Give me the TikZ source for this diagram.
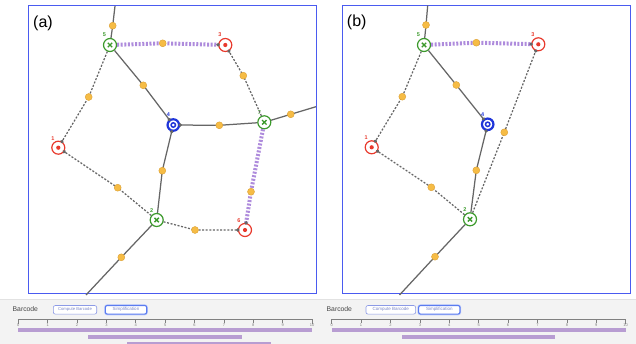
\documentclass[tikz,border=0pt]{standalone}
\usepackage{fontspec}
\setmainfont{Liberation Sans}
\usetikzlibrary{arrows.meta}
\definecolor{framec}{HTML}{4A5BF0}
\definecolor{sadc}{HTML}{3C9A2C}
\definecolor{minc}{HTML}{E8392C}
\definecolor{maxc}{HTML}{1F35DA}
\definecolor{edgec}{HTML}{666666}
\definecolor{dotc}{HTML}{F6BC45}
\definecolor{dotb}{HTML}{DCA035}
\definecolor{pairc}{HTML}{AE8BDC}
\definecolor{barc}{HTML}{B89DD2}
\definecolor{bandc}{HTML}{F3F3F3}
\definecolor{bandl}{HTML}{E2E2E2}
\definecolor{btnc}{HTML}{8C9AE6}
\definecolor{btnsel}{HTML}{5B7CF0}
\definecolor{btnglow}{HTML}{C4D0FB}
\definecolor{btntext}{HTML}{7A86C8}
\definecolor{axisc}{HTML}{808080}
\definecolor{titlec}{HTML}{444444}
\begin{document}
\begin{tikzpicture}[x=1pt,y=-1pt,
  sadnode/.style={circle,draw=sadc,line width=1.2pt,fill=white,minimum size=13pt,inner sep=0pt,
    path picture={\draw[sadc,line width=1.4pt]
      ([shift={(-2.2pt,-2.2pt)}]path picture bounding box.center) -- ([shift={(2.2pt,2.2pt)}]path picture bounding box.center)
      ([shift={(-2.2pt,2.2pt)}]path picture bounding box.center) -- ([shift={(2.2pt,-2.2pt)}]path picture bounding box.center);}},
  minnode/.style={circle,draw=minc,line width=1.2pt,fill=white,minimum size=13pt,inner sep=0pt,
    path picture={\fill[minc] (path picture bounding box.center) circle (2.1pt);}},
  maxnode/.style={circle,draw=maxc,line width=2.2pt,fill=white,minimum size=11.5pt,inner sep=0pt,
    path picture={\draw[maxc,line width=1.5pt] (path picture bounding box.center) circle (2.2pt);}},
  odot/.style={circle,fill=dotc,draw=dotb,line width=0.4pt,minimum size=7pt,inner sep=0pt},
  numlab/.style={font=\fontsize{5.5}{6}\selectfont\bfseries,inner sep=0pt},
  solidarc/.style={draw=edgec,line width=1.25pt,shorten >=-1.5pt,-{Circle[length=3.2pt]}},
  solidout/.style={draw=edgec,line width=1.25pt},
  dasharc/.style={draw=edgec,line width=1.25pt,dash pattern=on 2pt off 1.6pt,shorten >=-1.5pt,-{Circle[length=3.2pt]}},
  pairarc/.style={draw=pairc,line width=4pt,dash pattern=on 2pt off 1.6pt,shorten >=-1.5pt,-{Circle[length=3.2pt,color=edgec]}},
  panel/.style={draw=framec,line width=1pt},
  plabel/.style={font=\fontsize{16}{16}\selectfont,inner sep=0pt},
  btitle/.style={font=\fontsize{6.8}{8}\selectfont,text=titlec,anchor=west,inner sep=0pt},
  btn/.style={draw=btnc,line width=0.6pt,rounded corners=2pt,fill=white,text=btntext,inner sep=0pt,
    font=\fontsize{4.5}{5}\selectfont,minimum height=8.6pt},
  btnon/.style={btn,draw=btnsel,line width=1.1pt,preaction={draw=btnglow,line width=2.4pt}},
  tick/.style={draw=axisc,line width=0.6pt},
  ticklab/.style={font=\fontsize{4}{4.5}\selectfont,text=axisc,inner sep=0pt},
  bar/.style={fill=barc}
]
\useasboundingbox (0,0) rectangle (636,344);

% ---------- bottom control band ----------
\fill[bandc] (0,299) rectangle (636,344);
\draw[bandl,line width=0.5pt] (0,299) -- (636,299);

% ---------- panel frames and captions ----------
\draw[panel] (28,6) rectangle (316,293);
\draw[panel] (342,5.5) rectangle (630,293);
\node[plabel] (capa) at (43,23) {(a)};
\node[plabel] (capb) at (356.7,22.7) {(b)};

% ---------- panel (a): critical points ----------
\node[sadnode] (a5) at (110,45) {};
\node[minnode] (a3) at (225.3,45) {};
\node[maxnode] (a4) at (173.3,125) {};
\node[sadnode] (a7) at (264.3,122.3) {};
\node[minnode] (a1) at (58.3,147.7) {};
\node[sadnode] (a2) at (156.7,220) {};
\node[minnode] (a6) at (245,230) {};

\node[numlab,text=sadc] (a5l) at ([shift={(-5.5pt,10pt)}]a5.center) {5};
\node[numlab,text=minc] (a3l) at ([shift={(-5.5pt,10pt)}]a3.center) {3};
\node[numlab,text=maxc] (a4l) at ([shift={(-5pt,10pt)}]a4.center) {4};
\node[numlab,text=sadc] (a7l) at ([shift={(-5pt,10pt)}]a7.center) {7};
\node[numlab,text=minc] (a1l) at ([shift={(-5.5pt,9.5pt)}]a1.center) {1};
\node[numlab,text=sadc] (a2l) at ([shift={(-5pt,9.5pt)}]a2.center) {2};
\node[numlab,text=minc] (a6l) at ([shift={(-6pt,9.5pt)}]a6.center) {6};

% free ends at the frame
\coordinate (a5top) at (115,6);
\coordinate (a7right) at (316,106.7);
\coordinate (a2bot) at (86,295);

% edge midpoints
\coordinate (am1) at (112.7,25.7);
\coordinate (am2) at (162.7,43.3);
\coordinate (am3) at (143.3,85.3);
\coordinate (am4) at (88.7,97);
\coordinate (am5) at (243.3,75.7);
\coordinate (am6) at (219.3,125.3);
\coordinate (am7) at (290.7,114.3);
\coordinate (am8) at (162.3,170.7);
\coordinate (am9) at (117.7,187.7);
\coordinate (am10) at (251,191.7);
\coordinate (am11) at (195,230);
\coordinate (am12) at (121.3,257.3);

% edges of panel (a)
\draw[solidout] (a5) -- (am1) -- (a5top);
\draw[solidout] (a7) -- (am7) -- (a7right);
\draw[solidout] (a2) -- (am12) -- (a2bot);
\draw[solidarc] (a5) -- (am3) -- (a4);
\draw[solidarc] (a7) -- (am6) -- (a4);
\draw[solidarc] (a2) -- (am8) -- (a4);
\draw[dasharc] (a5) -- (am4) -- (a1);
\draw[dasharc] (a2) -- (am9) -- (a1);
\draw[dasharc] (a7) -- (am5) -- (a3);
\draw[dasharc] (a2) -- (am11) -- (a6);
\draw[pairarc] (a5) -- (am2) -- (a3);
\draw[pairarc] (a7) -- (am10) -- (a6);

\foreach \i in {1,...,12} { \node[odot] (ad\i) at (am\i) {}; }

% ---------- panel (b): critical points ----------
\node[sadnode] (b5) at (424,45) {};
\node[minnode] (b3) at (538.3,44.3) {};
\node[maxnode] (b4) at (487.7,124.3) {};
\node[minnode] (b1) at (371.7,147.3) {};
\node[sadnode] (b2) at (470,219.3) {};

\node[numlab,text=sadc] (b5l) at ([shift={(-5.5pt,10pt)}]b5.center) {5};
\node[numlab,text=minc] (b3l) at ([shift={(-5.5pt,10pt)}]b3.center) {3};
\node[numlab,text=maxc] (b4l) at ([shift={(-5pt,10pt)}]b4.center) {4};
\node[numlab,text=minc] (b1l) at ([shift={(-5.5pt,9.5pt)}]b1.center) {1};
\node[numlab,text=sadc] (b2l) at ([shift={(-5pt,9.5pt)}]b2.center) {2};

\coordinate (b5top) at (427.7,5.5);
\coordinate (b2bot) at (399.5,295);

\coordinate (bm1) at (426,25);
\coordinate (bm2) at (476.3,42.7);
\coordinate (bm3) at (456.3,85);
\coordinate (bm4) at (402.3,96.7);
\coordinate (bm5) at (504.3,132.3);
\coordinate (bm6) at (476.3,170.3);
\coordinate (bm7) at (431.3,187.3);
\coordinate (bm8) at (435,256.7);

\draw[solidout] (b5) -- (bm1) -- (b5top);
\draw[solidout] (b2) -- (bm8) -- (b2bot);
\draw[solidarc] (b5) -- (bm3) -- (b4);
\draw[solidarc] (b2) -- (bm6) -- (b4);
\draw[dasharc] (b5) -- (bm4) -- (b1);
\draw[dasharc] (b2) -- (bm7) -- (b1);
\draw[dasharc] (b2) -- (bm5) -- (b3);
\draw[pairarc] (b5) -- (bm2) -- (b3);

\foreach \i in {1,...,8} { \node[odot] (bd\i) at (bm\i) {}; }

% ---------- barcode controls ----------
\node[btitle] (bta) at (12.5,309.5) {Barcode};
\node[btn,minimum width=43.4pt,font=\fontsize{4.2}{5}\selectfont] (cba) at (75,309.8) {Compute Barcode};
\node[btnon,minimum width=41.4pt] (sma) at (126,309.8) {Simplification};

\node[btitle] (btb) at (326.5,309) {Barcode};
\node[btn,minimum width=49.7pt] (cbb) at (390.8,309.8) {Compute Barcode};
\node[btnon,minimum width=41.4pt] (smb) at (439.3,309.8) {Simplification};

% ---------- barcode axes ----------
\foreach \xo/\u/\p in {18.3/29.37/a, 331.7/29.4/b} {
  \draw[tick] (\xo,324) -- (\xo,319.5) -- ({\xo+10*\u},319.5) -- ({\xo+10*\u},324);
  \foreach \k in {0,...,10} {
    \draw[tick] ({\xo+\k*\u},319.5) -- ({\xo+\k*\u},322.5);
    \node[ticklab] (t\p\k) at ({\xo+\k*\u},325.5) {\k};
  }
}

% ---------- persistence bars ----------
\fill[bar] (18.3,328.3) rectangle (312,332.3);
\fill[bar] (88.3,335) rectangle (241.7,339);
\fill[bar] (126.7,341.7) rectangle (271,346);
\fill[bar] (331.7,328.3) rectangle (625.7,332.3);
\fill[bar] (402,335) rectangle (555.3,339);
\end{tikzpicture}
\end{document}
